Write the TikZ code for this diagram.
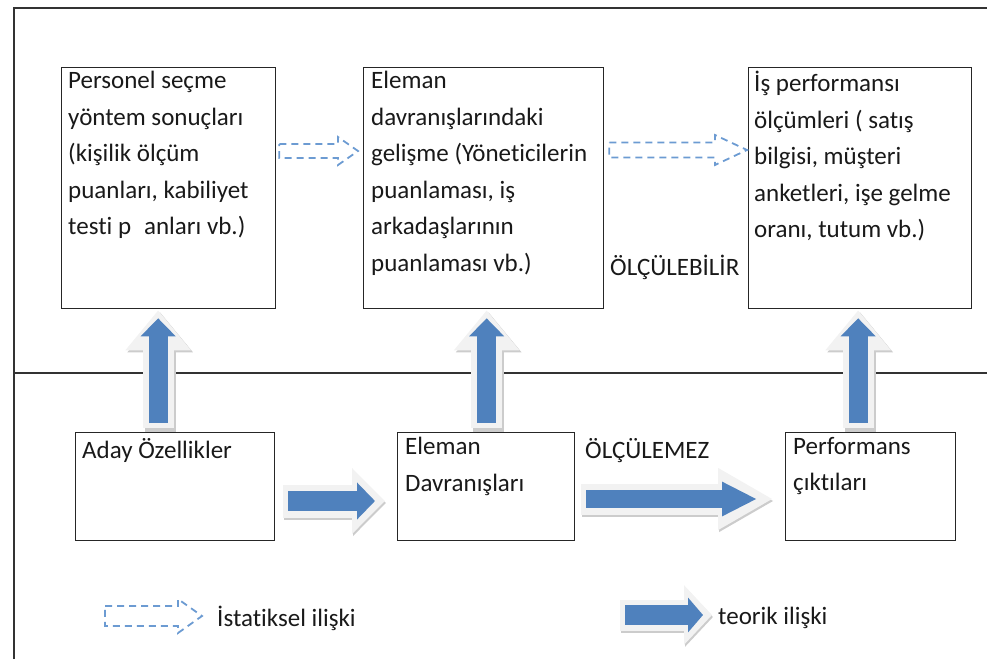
\documentclass[tikz,border=0pt]{standalone}
\usepackage{fontspec}
\setmainfont{Carlito}[Ligatures=NoCommon]
\usetikzlibrary{arrows.meta,calc}

\definecolor{mavi}{RGB}{79,129,189}
\definecolor{acikmavi}{RGB}{108,155,210}

\tikzset{
  kutu/.style={draw=black!85, line width=1.3pt, anchor=north west, inner sep=0pt},
  yazi/.style={anchor=north west, align=left, inner sep=0pt, text=black!90,
    font=\fontsize{25}{36.5}\selectfont, execute at begin node={\rule{0pt}{21pt}}},
  kesik/.style={draw=acikmavi, line width=1.8pt, dash pattern=on 7pt off 5pt},
  parlak/.style={black!5},
  golge/.style={black!20},
}

\begin{document}
\begin{tikzpicture}[x=1pt,y=-1pt]
  \useasboundingbox (0,0) rectangle (987,659);

  %% cerceve
  \draw[black!80, line width=1.5pt] (14,659) -- (14,8) -- (987,8);
  \draw[black!80, line width=1.5pt] (14,373) -- (987,373);

  %% ust kutular
  \node[kutu, minimum width=214pt, minimum height=241pt] (secme) at (61,67) {};
  \node[kutu, minimum width=240pt, minimum height=241pt] (gelisme) at (363,67) {};
  \node[kutu, minimum width=223pt, minimum height=241pt] (olcum) at (748,67) {};

  \node[yazi] (secme-y) at ([shift={(7,4)}]secme.north west)
    {Personel seçme\\yöntem sonuçları\\(kişilik ölçüm\\puanları, kabiliyet\\testi p\hspace{13pt}anları vb.)};
  \node[yazi] (gelisme-y) at ([shift={(8,4)}]gelisme.north west)
    {Eleman\\davranışlarındaki\\gelişme (Yöneticilerin\\puanlaması, iş\\arkadaşlarının\\puanlaması vb.)};
  \node[yazi] (olcum-y) at ([shift={(6,4)}]olcum.north west)
    {İş performansı\\ölçümleri ( satış\\bilgisi, müşteri\\anketleri, işe gelme\\oranı, tutum vb.)};

  %% alt kutular
  \node[kutu, minimum width=199pt, minimum height=108pt] (aday) at (75,432) {};
  \node[kutu, minimum width=177pt, minimum height=108pt] (eleman) at (397,432) {};
  \node[kutu, minimum width=170pt, minimum height=108pt] (cikti) at (785,432) {};

  \node[yazi] (aday-y) at ([shift={(7,5)}]aday.north west) {Aday Özellikler};
  \node[yazi] (eleman-y) at ([shift={(8,5)}]eleman.north west) {Eleman\\Davranışları};
  \node[yazi] (cikti-y) at ([shift={(8,5)}]cikti.north west) {Performans\\çıktıları};

  \node[yazi, anchor=base west] (olculebilir) at (610,275) {ÖLÇÜLEBİLİR};
  \node[yazi, anchor=base west] (olculemez) at (585,458) {ÖLÇÜLEMEZ};

  %% istatiksel iliski (kesikli oklar)
  \draw[kesik] let \p1=([shift={(3,84)}]secme.north east), \p2=([shift={(-5,84)}]gelisme.north west) in
    (\x1,\y1+7pt) -- (\x2-20pt,\y1+7pt) -- (\x2-20pt,\y1+14pt) -- (\x2,\y2)
    -- (\x2-20pt,\y1-14pt) -- (\x2-20pt,\y1-7pt) -- (\x1,\y1-7pt) -- cycle;
  \draw[kesik] let \p1=([shift={(5,83)}]gelisme.north east), \p2=([shift={(-1,83)}]olcum.north west) in
    (\x1,\y1+7.5pt) -- (\x2-32pt,\y1+7.5pt) -- (\x2-32pt,\y1+15pt) -- (\x2,\y2)
    -- (\x2-32pt,\y1-15pt) -- (\x2-32pt,\y1-7.5pt) -- (\x1,\y1-7.5pt) -- cycle;

  %% teorik iliski (yukari oklar)
  \draw[golge, line width=31pt, -{Triangle[width=63pt,length=40pt]}, shorten <=2pt]
    ([shift={(-15,2)}]aday.north) -- ([shift={(-8.5,3)}]secme.south);
  \draw[parlak, line width=31pt, -{Triangle[width=63pt,length=40pt]}, shorten <=4pt, shorten >=1pt]
    ([xshift=-17]aday.north) -- ([xshift=-10.5]secme.south);
  \draw[mavi, line width=19pt, -{Triangle[width=34pt,length=18pt]}, shorten <=9pt, shorten >=9pt]
    ([xshift=-17]aday.north) -- ([xshift=-10.5]secme.south);

  \draw[golge, line width=31pt, -{Triangle[width=63pt,length=40pt]}, shorten <=2pt]
    ([shift={(2.5,2)}]eleman.north) -- ([shift={(5,3)}]gelisme.south);
  \draw[parlak, line width=31pt, -{Triangle[width=63pt,length=40pt]}, shorten <=4pt, shorten >=1pt]
    ([xshift=0.5]eleman.north) -- ([xshift=3]gelisme.south);
  \draw[mavi, line width=19pt, -{Triangle[width=34pt,length=18pt]}, shorten <=9pt, shorten >=9pt]
    ([xshift=0.5]eleman.north) -- ([xshift=3]gelisme.south);

  \draw[golge, line width=31pt, -{Triangle[width=63pt,length=40pt]}, shorten <=2pt]
    ([shift={(-10.5,2)}]cikti.north) -- ([shift={(0,3)}]olcum.south);
  \draw[parlak, line width=31pt, -{Triangle[width=63pt,length=40pt]}, shorten <=4pt, shorten >=1pt]
    ([xshift=-12.5]cikti.north) -- ([xshift=-2]olcum.south);
  \draw[mavi, line width=19pt, -{Triangle[width=34pt,length=18pt]}, shorten <=9pt, shorten >=9pt]
    ([xshift=-12.5]cikti.north) -- ([xshift=-2]olcum.south);

  %% teorik iliski (saga oklar)
  \draw[golge, line width=33pt, -{Triangle[width=64pt,length=33pt]}]
    ([shift={(9,71)}]aday.north east) -- ([shift={(-11,71)}]eleman.north west);
  \draw[parlak, line width=33pt, -{Triangle[width=64pt,length=33pt]}]
    ([shift={(8,69)}]aday.north east) -- ([shift={(-12,69)}]eleman.north west);
  \draw[mavi, line width=20pt, -{Triangle[width=36pt,length=18pt]}]
    ([shift={(13,69)}]aday.north east) -- ([shift={(-22,69)}]eleman.north west);

  \draw[golge, line width=31pt, -{Triangle[width=58pt,length=55pt]}]
    ([shift={(7,69)}]eleman.north east) -- ([shift={(-11,69)}]cikti.north west);
  \draw[parlak, line width=31pt, -{Triangle[width=58pt,length=55pt]}]
    ([shift={(6,67)}]eleman.north east) -- ([shift={(-12,67)}]cikti.north west);
  \draw[mavi, line width=18pt, -{Triangle[width=32pt,length=35pt]}]
    ([shift={(11,67)}]eleman.north east) -- ([shift={(-28,67)}]cikti.north west);

  %% lejant
  \draw[kesik] (105,606) -- (178,606) -- (178,599) -- (202,616) -- (178,633) -- (178,626) -- (105,626) -- cycle;
  \node[yazi, anchor=base west] (istatiksel) at (217,626) {İstatiksel ilişki};

  \draw[golge, line width=31pt, -{Triangle[width=58pt,length=28pt]}] (621,617) -- (713,617);
  \draw[parlak, line width=31pt, -{Triangle[width=58pt,length=28pt]}] (620,615) -- (712,615);
  \draw[mavi, line width=20pt, -{Triangle[width=34pt,length=15pt]}] (625,615) -- (703,615);
  \node[yazi, anchor=base west] (teorik) at (718,624) {teorik ilişki};

\end{tikzpicture}
\end{document}
